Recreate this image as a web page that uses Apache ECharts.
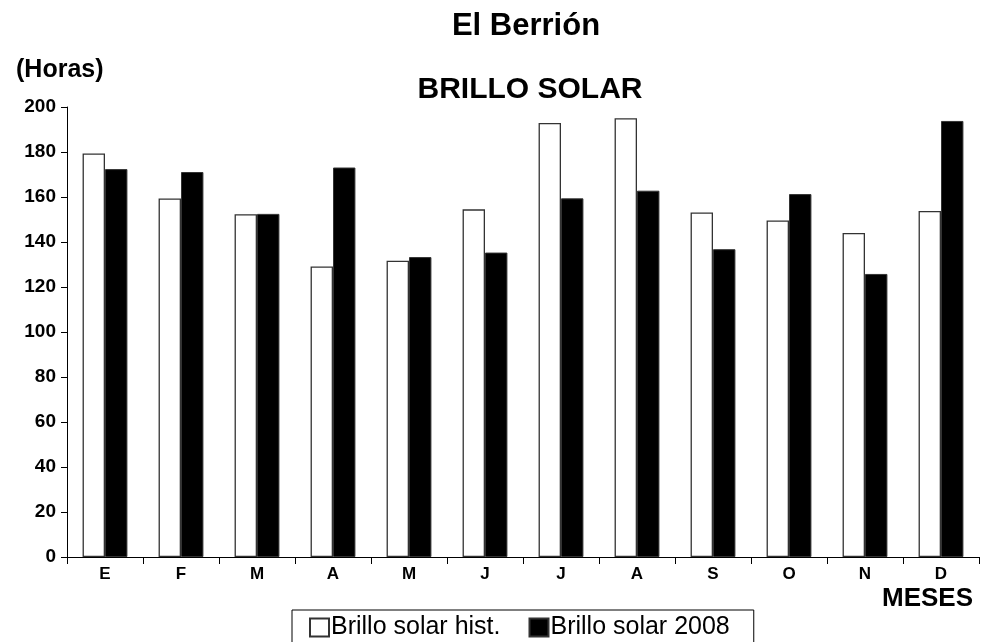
<!DOCTYPE html>
<html><head><meta charset="utf-8">
<script src="https://cdn.jsdelivr.net/npm/echarts@6/dist/echarts.min.js"></script>
<style>html,body{margin:0;padding:0;background:#fff}#c{width:982px;height:642px}</style>
</head><body><div id="c"></div>
<script>
var months = ['E','F','M','A','M','J','J','A','S','O','N','D'];
var histValues = [179.3, 159.3, 152.3, 129.1, 131.7, 154.5, 192.9, 195.0, 153.1, 149.6, 144.0, 153.8];
var values2008 = [172.4, 171.1, 152.5, 173.1, 133.3, 135.3, 159.4, 162.8, 136.8, 161.3, 125.8, 193.8];
var yTicks = [0, 20, 40, 60, 80, 100, 120, 140, 160, 180, 200];

var chart = echarts.init(document.getElementById('c'), null, {renderer:'canvas'});
var F = 'Liberation Sans, Arial, sans-serif';
chart.setOption({
  animation:false,
  backgroundColor:'#fff',
  title:[
    {text:'El Berrión', left:521, top:6, textAlign:'center', textStyle:{fontFamily:F, fontWeight:'bold', fontSize:31, color:'#000'}},
    {text:'BRILLO SOLAR', left:525, top:70, textAlign:'center', textStyle:{fontFamily:F, fontWeight:'bold', fontSize:30, color:'#000'}},
    {text:'(Horas)', left:11, top:53, textStyle:{fontFamily:F, fontWeight:'bold', fontSize:25, color:'#000'}},
    {text:'MESES', right:4, top:581, textStyle:{fontFamily:F, fontWeight:'bold', fontSize:26, color:'#000'}}
  ],
  legend:{
    data:[{name:'Brillo solar hist.', icon:'rect'},{name:'Brillo solar 2008', icon:'rect'}],
    left:292, top:610, itemWidth:19, itemHeight:18, itemGap:28,
    borderColor:'#000', borderWidth:1, padding:[5,24,5,17],
    textStyle:{fontFamily:F, fontSize:25, color:'#000', padding:[0,0,0,-3]}
  },
  grid:{left:67, right:3, top:107, bottom:85, containLabel:false},
  xAxis:{
    type:'category', data:months, boundaryGap:true,
    axisLine:{lineStyle:{color:'#000', width:1}},
    axisTick:{show:true, length:7, lineStyle:{color:'#000'}},
    axisLabel:{fontFamily:F, fontWeight:'bold', fontSize:17, color:'#000', margin:9}
  },
  yAxis:{
    type:'value', min:0, max:200, interval:20,
    splitLine:{show:false},
    axisLine:{show:true, lineStyle:{color:'#000', width:1}},
    axisTick:{show:true, length:6, lineStyle:{color:'#000'}},
    axisLabel:{fontFamily:F, fontWeight:'bold', fontSize:19, color:'#000', margin:11,
      formatter:function(v){return yTicks.indexOf(v)>=0 ? String(v) : '';}}
  },
  series:[
    {name:'Brillo solar hist.', type:'bar', data:histValues, barGap:'0%', barCategoryGap:'41%',
     itemStyle:{color:'#fff', borderColor:'#333', borderWidth:1.3}},
    {name:'Brillo solar 2008', type:'bar', data:values2008, barGap:'0%', barCategoryGap:'41%',
     itemStyle:{color:'#000', borderColor:'#333', borderWidth:1}}
  ]
});
</script></body></html>
